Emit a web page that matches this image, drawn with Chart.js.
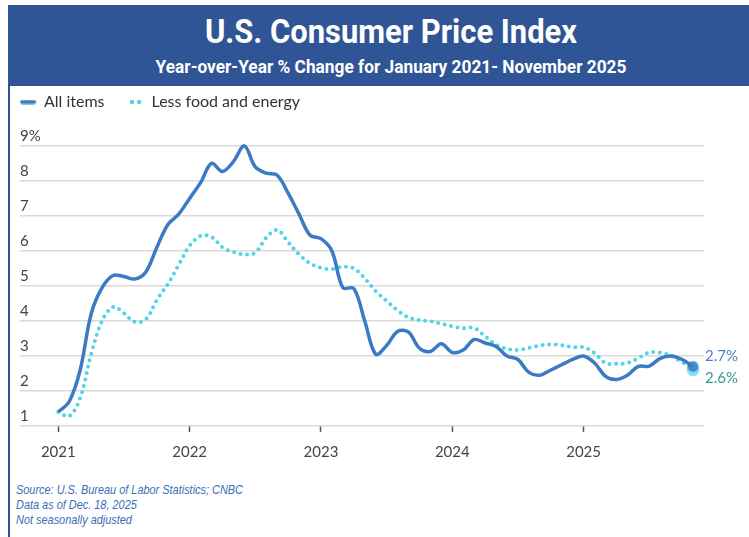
<!DOCTYPE html>
<html>
<head>
<meta charset="utf-8">
<script src="https://cdn.jsdelivr.net/npm/chart.js@4.4.1/dist/chart.umd.min.js"></script>
<style>
  html, body { margin: 0; padding: 0; background: #fff; }
  body { width: 749px; height: 537px; position: relative; overflow: hidden; }
  .frame-left { position: absolute; left: 8px; top: 5px; width: 1.5px; height: 532px; background: #2f5597; }
  .header { position: absolute; left: 9px; top: 5px; width: 740px; height: 81px; background: #2f5597; }
  .title, .subtitle { position: absolute; left: 0; width: 782px; text-align: center; color: #fff; font-family: Roboto, "Liberation Sans", sans-serif; font-weight: bold; white-space: nowrap; }
  .title { top: 14px; font-size: 34px; line-height: 34px; transform: scaleX(0.91); }
  .subtitle { top: 58px; font-size: 18px; line-height: 18px; transform: scaleX(0.96); }
  .chart-box { position: absolute; left: -3px; top: 71px; width: 752px; height: 409px; }
  .footer { position: absolute; left: 16px; top: 482px; color: #3a6fb5; font-family: "Liberation Sans", sans-serif; font-style: italic; font-size: 13px; line-height: 15px; transform: scaleX(0.84); transform-origin: left top; white-space: nowrap; }
</style>
</head>
<body>
<div class="frame-left"></div>
<div class="header"></div>
<div class="title">U.S. Consumer Price Index</div>
<div class="subtitle">Year-over-Year % Change for January 2021- November 2025</div>
<div class="chart-box"><canvas id="cpiChart"></canvas></div>
<div class="footer">Source: U.S. Bureau of Labor Statistics; CNBC<br>Data as of Dec. 18, 2025<br>Not seasonally adjusted</div>
<script>
// monthly values, Jan 2021 .. Nov 2025
var allItems = [
  1.4, 1.7, 2.6, 4.2, 4.95, 5.3, 5.27, 5.2, 5.4, 6.1, 6.75, 7.05,
  7.5, 7.95, 8.5, 8.27, 8.55, 9.0, 8.4, 8.22, 8.16, 7.65, 7.05, 6.45,
  6.35, 6.0, 4.95, 4.93, 4.0, 3.05, 3.3, 3.7, 3.68, 3.22, 3.13, 3.35,
  3.1, 3.17, 3.47, 3.37, 3.27, 3.0, 2.9, 2.53, 2.45, 2.6, 2.75, 2.9,
  3.0, 2.8, 2.42, 2.33, 2.45, 2.7, 2.71, 2.93, 3.0, 2.9, 2.7
];
var lessFoodEnergy = [
  1.4, 1.28, 1.8, 3.05, 4.0, 4.4, 4.22, 3.97, 4.05, 4.6, 5.05, 5.6,
  6.15, 6.43, 6.4, 6.1, 5.97, 5.9, 5.95, 6.38, 6.6, 6.25, 5.9, 5.65,
  5.52, 5.48, 5.55, 5.5, 5.22, 4.85, 4.57, 4.3, 4.1, 4.02, 3.99, 3.92,
  3.85, 3.79, 3.8, 3.56, 3.32, 3.2, 3.17, 3.23, 3.3, 3.33, 3.31, 3.25,
  3.25, 3.08, 2.8, 2.78, 2.8, 2.94, 3.1, 3.1, 3.0, 2.82, 2.6
];
var seriesNames = ['All items', 'Less food and energy'];
var yearLabels = ['2021', '2022', '2023', '2024', '2025'];
var yearTickMonths = [0, 12, 24, 36, 48];
var yTicks = [1, 2, 3, 4, 5, 6, 7, 8, 9];

var blue = '#3b7bc4';
var cyan = '#52d4e8';
var lastIdx = allItems.length - 1;

function lineIcon(color) {
    var c = document.createElement('canvas');
    c.width = 17; c.height = 5;
    var g = c.getContext('2d');
    g.strokeStyle = color; g.lineWidth = 4; g.lineCap = 'round';
    g.beginPath(); g.moveTo(2.5, 2.5); g.lineTo(14.5, 2.5); g.stroke();
    return c;
}
function dotsIcon(color) {
    var c = document.createElement('canvas');
    c.width = 13; c.height = 6;
    var g = c.getContext('2d');
    g.fillStyle = color;
    [3, 10].forEach(function (x) { g.beginPath(); g.arc(x, 3, 2.2, 0, Math.PI * 2); g.fill(); });
    return c;
}
var legendIcons = [lineIcon(blue), dotsIcon(cyan)];

var endLabelColors = ['#4f80bf', '#2f9d92'];
var endLabelShift = [-10, 8];

var endLabels = {
    id: 'endLabels',
    afterDatasetsDraw: function (chart) {
        var ctx = chart.ctx;
        ctx.save();
        ctx.font = '15px Lato';
        ctx.textBaseline = 'middle';
        ctx.textAlign = 'left';
        chart.data.datasets.forEach(function (ds, i) {
            var pts = chart.getDatasetMeta(i).data;
            var p = pts[pts.length - 1];
            ctx.fillStyle = endLabelColors[i];
            ctx.fillText(ds.data[ds.data.length - 1].y.toFixed(1) + '%', p.x + 12, p.y + endLabelShift[i]);
        });
        ctx.restore();
    }
};

function toPoints(arr) {
    return arr.map(function (v, i) { return { x: i, y: v }; });
}

document.addEventListener('DOMContentLoaded', function () {
    var ctx = document.getElementById('cpiChart').getContext('2d');
    new Chart(ctx, {
        type: 'line',
        data: {
            datasets: [{
                label: seriesNames[0],
                data: toPoints(allItems),
                borderColor: blue,
                borderWidth: 3.5,
                tension: 0.35,
                pointRadius: function (c) { return c.dataIndex === lastIdx ? 5 : 0; },
                pointBackgroundColor: 'rgba(59,123,196,0.85)',
                pointBorderColor: 'rgba(59,123,196,0.35)',
                pointBorderWidth: 2,
                pointHoverRadius: 0
            }, {
                label: seriesNames[1],
                data: toPoints(lessFoodEnergy),
                borderColor: cyan,
                borderWidth: 4,
                borderDash: [0, 6.6],
                borderCapStyle: 'round',
                tension: 0.35,
                pointRadius: function (c) { return c.dataIndex === lastIdx ? 6 : 0; },
                pointBackgroundColor: 'rgba(110,222,238,0.85)',
                pointBorderColor: 'rgba(110,222,238,0.5)',
                pointBorderWidth: 1,
                pointHoverRadius: 0
            }]
        },
        options: {
            responsive: true,
            maintainAspectRatio: false,
            animation: false,
            devicePixelRatio: 1,
            layout: { padding: { left: 0, right: 45, top: 0, bottom: 8 } },
            plugins: {
                tooltip: { enabled: false },
                legend: {
                    display: true,
                    position: 'top',
                    align: 'start',
                    labels: {
                        usePointStyle: true,
                        pointStyleWidth: 16,
                        padding: 23,
                        color: '#333',
                        font: { family: 'Lato', size: 16 },
                        generateLabels: function (chart) {
                            var items = Chart.defaults.plugins.legend.labels.generateLabels(chart);
                            items.forEach(function (it, i) { it.pointStyle = legendIcons[i]; });
                            return items;
                        }
                    }
                }
            },
            scales: {
                x: {
                    type: 'linear',
                    min: -3.5,
                    max: 59,
                    afterBuildTicks: function (axis) {
                        axis.ticks = yearTickMonths.map(function (v) { return { value: v }; });
                    },
                    grid: {
                        drawOnChartArea: false,
                        drawTicks: true,
                        tickLength: 6,
                        tickColor: '#555',
                        tickWidth: 1.5
                    },
                    border: { display: false },
                    ticks: {
                        padding: 11,
                        color: '#444',
                        font: { family: 'Lato', size: 15 },
                        maxRotation: 0,
                        callback: function (v) { return yearLabels[yearTickMonths.indexOf(v)]; }
                    }
                },
                y: {
                    min: 1,
                    max: 9.74,
                    afterBuildTicks: function (axis) {
                        axis.ticks = yTicks.map(function (v) { return { value: v }; });
                    },
                    grid: {
                        color: '#d9d9d9',
                        lineWidth: 1.5,
                        drawTicks: true,
                        tickLength: 23,
                        tickColor: 'rgba(0,0,0,0)'
                    },
                    border: { display: false },
                    ticks: {
                        mirror: true,
                        padding: 0,
                        labelOffset: -10,
                        color: '#444',
                        font: { family: 'Lato', size: 15 },
                        callback: function (v) { return v === yTicks[yTicks.length - 1] ? v + '%' : v; }
                    }
                }
            }
        },
        plugins: [endLabels]
    });
});
</script>
</body>
</html>
